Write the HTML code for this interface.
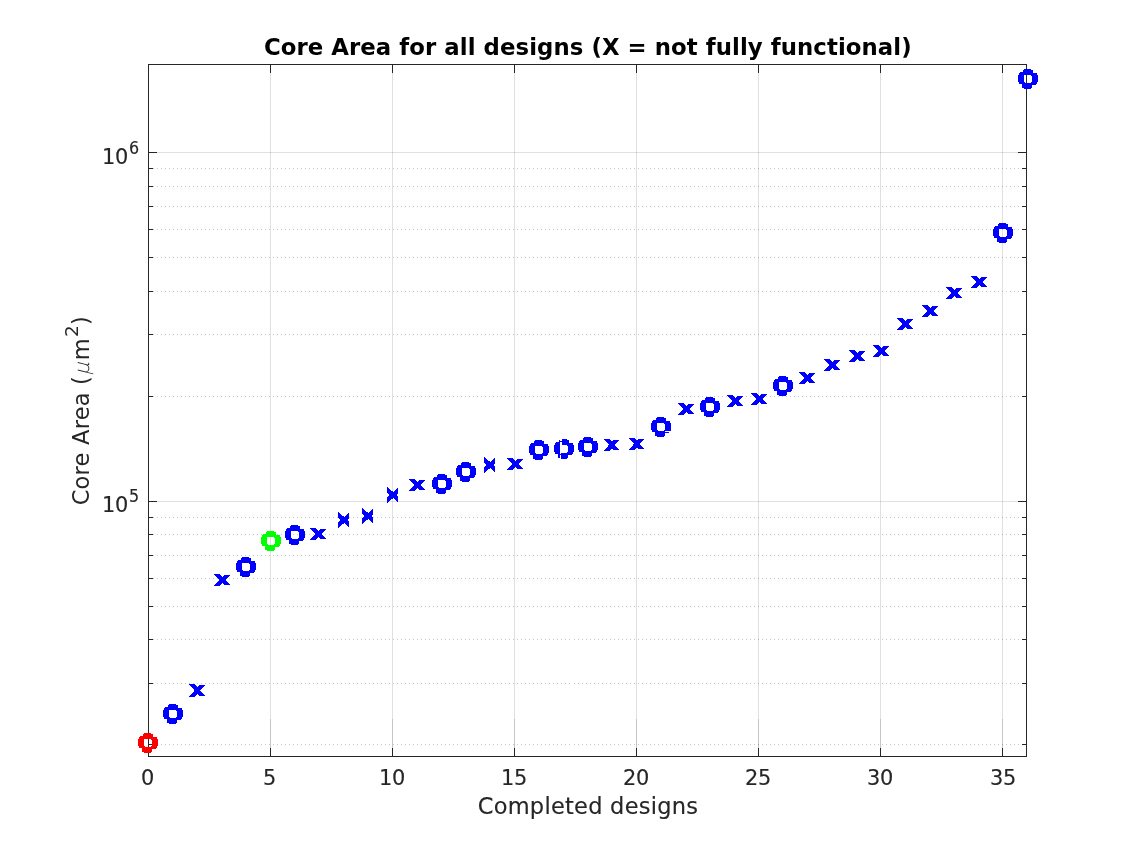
<!DOCTYPE html>
<html lang="en"><head><meta charset="utf-8"><title>Core Area for all designs</title>
<style>
html,body{margin:0;padding:0;background:#fff;}
body{width:1135px;height:851px;overflow:hidden;}
svg{display:block;}
text{font-family:"DejaVu Sans","Liberation Sans",sans-serif;fill:#262626;stroke:#262626;stroke-width:0.15px;}
.t{font-size:22px;letter-spacing:-0.31px;}
.sup{font-size:16.8px;letter-spacing:0;}
.sup2{font-size:18.5px;}
.mu{font-family:"DejaVu Sans Light","DejaVu Sans",sans-serif;font-style:italic;font-size:20.5px;stroke:none;}
.l{font-size:22.5px;}
.ttl{font-size:22.8px;font-weight:bold;fill:#000;stroke:none;}
.ax{stroke:#262626;stroke-width:1;fill:none;shape-rendering:crispEdges;}
.g{stroke:#262626;stroke-opacity:0.145;stroke-width:1;fill:none;shape-rendering:crispEdges;}
.mg{stroke:#262626;stroke-opacity:0.26;stroke-width:1;fill:none;stroke-dasharray:1 3.0048;shape-rendering:crispEdges;}
.m{shape-rendering:crispEdges;}
</style></head><body>
<svg width="1135" height="851" viewBox="0 0 1135 851">
<rect x="0" y="0" width="1135" height="851" fill="#ffffff"/>
<defs>
<path id="ring" fill-rule="evenodd" d="M-4,-10 L3,-10 L3,-9 L5,-9 L5,-6 L9,-6 L9,-4 L10,-4 L10,3 L9,3 L9,5 L8,5 L8,6 L4,6 L4,9 L3,9 L3,10 L-4,10 L-4,9 L-6,9 L-6,5 L-9,5 L-9,3 L-10,3 L-10,-4 L-9,-4 L-9,-6 L-8,-6 L-8,-7 L-5,-7 L-5,-9 L-4,-9Z M-4,-4 L3,-4 L3,-3 L4,-3 L4,3 L3,3 L3,4 L-3,4 L-3,3 L-4,3Z"/>
<path id="xw" d="M0,0h6v1h-6zM1,1h6v1h-6zM2,2h6v1h-6zM3,3h6v1h-6zM4,4h6v1h-6zM5,5h6v1h-6zM5,6h6v1h-6zM6,7h6v1h-6zM7,8h6v1h-6zM8,9h6v1h-6zM9,10h6v1h-6zM10,11h6v1h-6zM10,1h6v1h-6zM9,2h6v1h-6zM8,3h6v1h-6zM7,4h6v1h-6zM6,5h6v1h-6zM5,6h6v1h-6zM5,7h6v1h-6zM4,8h6v1h-6zM3,9h6v1h-6zM2,10h6v1h-6zM1,11h6v1h-6zM0,12h6v1h-6z"/>
<path id="xb" d="M0,0h6v1h-6zM1,1h6v1h-6zM2,2h6v1h-6zM3,3h6v1h-6zM4,4h6v1h-6zM5,5h6v1h-6zM6,6h6v1h-6zM7,7h6v1h-6zM8,8h6v1h-6zM9,9h6v1h-6zM10,10h6v1h-6zM10,1h6v1h-6zM9,2h6v1h-6zM8,3h6v1h-6zM7,4h6v1h-6zM6,5h6v1h-6zM5,6h6v1h-6zM4,7h6v1h-6zM3,8h6v1h-6zM2,9h6v1h-6zM1,10h6v1h-6zM0,11h6v1h-6z"/>
<path id="xc" d="M0,0h6v1h-6zM1,1h6v1h-6zM2,2h6v1h-6zM3,3h6v1h-6zM4,4h6v1h-6zM5,5h6v1h-6zM5,6h6v1h-6zM6,7h6v1h-6zM7,8h6v1h-6zM8,9h6v1h-6zM9,10h6v1h-6zM9,1h6v1h-6zM8,2h6v1h-6zM7,3h6v1h-6zM6,4h6v1h-6zM5,5h6v1h-6zM4,6h6v1h-6zM4,7h6v1h-6zM3,8h6v1h-6zM2,9h6v1h-6zM1,10h6v1h-6zM0,11h6v1h-6z"/>
<path id="xt" d="M0,0v6h1v-6zM1,1v6h1v-6zM2,2v6h1v-6zM3,3v6h1v-6zM4,4v6h1v-6zM5,4v6h1v-6zM6,5v6h1v-6zM7,6v6h1v-6zM8,7v6h1v-6zM9,8v6h1v-6zM10,9v6h1v-6zM0,10v6h1v-6zM1,9v6h1v-6zM2,8v6h1v-6zM3,7v6h1v-6zM4,6v6h1v-6zM5,6v6h1v-6zM6,5v6h1v-6zM7,4v6h1v-6zM8,3v6h1v-6zM9,2v6h1v-6zM10,1v6h1v-6z"/>
</defs>
<g class="g">
<line x1="270.5" y1="64.5" x2="270.5" y2="756.5"/>
<line x1="392.5" y1="64.5" x2="392.5" y2="756.5"/>
<line x1="514.5" y1="64.5" x2="514.5" y2="756.5"/>
<line x1="636.5" y1="64.5" x2="636.5" y2="756.5"/>
<line x1="758.5" y1="64.5" x2="758.5" y2="756.5"/>
<line x1="880.5" y1="64.5" x2="880.5" y2="756.5"/>
<line x1="1002.5" y1="64.5" x2="1002.5" y2="756.5"/>
<line x1="148.5" y1="501.5" x2="1026.5" y2="501.5"/>
<line x1="148.5" y1="152.5" x2="1026.5" y2="152.5"/>
<line x1="270.5" y1="719" x2="270.5" y2="756.5"/>
<line x1="392.5" y1="719" x2="392.5" y2="756.5"/>
<line x1="514.5" y1="719" x2="514.5" y2="756.5"/>
<line x1="636.5" y1="719" x2="636.5" y2="756.5"/>
<line x1="758.5" y1="719" x2="758.5" y2="756.5"/>
<line x1="880.5" y1="719" x2="880.5" y2="756.5"/>
<line x1="1002.5" y1="719" x2="1002.5" y2="756.5"/>
</g>
<g class="mg">
<line x1="153.0" y1="744.5" x2="1019.5" y2="744.5"/>
<line x1="153.0" y1="683.5" x2="1019.5" y2="683.5"/>
<line x1="153.0" y1="639.5" x2="1019.5" y2="639.5"/>
<line x1="153.0" y1="606.5" x2="1019.5" y2="606.5"/>
<line x1="153.0" y1="578.5" x2="1019.5" y2="578.5"/>
<line x1="153.0" y1="555.5" x2="1019.5" y2="555.5"/>
<line x1="153.0" y1="534.5" x2="1019.5" y2="534.5"/>
<line x1="153.0" y1="517.5" x2="1019.5" y2="517.5"/>
<line x1="153.0" y1="396.5" x2="1019.5" y2="396.5"/>
<line x1="153.0" y1="334.5" x2="1019.5" y2="334.5"/>
<line x1="153.0" y1="291.5" x2="1019.5" y2="291.5"/>
<line x1="153.0" y1="257.5" x2="1019.5" y2="257.5"/>
<line x1="153.0" y1="229.5" x2="1019.5" y2="229.5"/>
<line x1="153.0" y1="206.5" x2="1019.5" y2="206.5"/>
<line x1="153.0" y1="186.5" x2="1019.5" y2="186.5"/>
<line x1="153.0" y1="168.5" x2="1019.5" y2="168.5"/>
</g>
<g class="ax">
<rect x="148.5" y="64.5" width="878.0" height="692.0"/>
<line x1="270.5" y1="756.5" x2="270.5" y2="748.0"/>
<line x1="270.5" y1="64.5" x2="270.5" y2="73.0"/>
<line x1="392.5" y1="756.5" x2="392.5" y2="748.0"/>
<line x1="392.5" y1="64.5" x2="392.5" y2="73.0"/>
<line x1="514.5" y1="756.5" x2="514.5" y2="748.0"/>
<line x1="514.5" y1="64.5" x2="514.5" y2="73.0"/>
<line x1="636.5" y1="756.5" x2="636.5" y2="748.0"/>
<line x1="636.5" y1="64.5" x2="636.5" y2="73.0"/>
<line x1="758.5" y1="756.5" x2="758.5" y2="748.0"/>
<line x1="758.5" y1="64.5" x2="758.5" y2="73.0"/>
<line x1="880.5" y1="756.5" x2="880.5" y2="748.0"/>
<line x1="880.5" y1="64.5" x2="880.5" y2="73.0"/>
<line x1="1002.5" y1="756.5" x2="1002.5" y2="748.0"/>
<line x1="1002.5" y1="64.5" x2="1002.5" y2="73.0"/>
<line x1="148.5" y1="501.5" x2="157.0" y2="501.5"/>
<line x1="1026.5" y1="501.5" x2="1018.0" y2="501.5"/>
<line x1="148.5" y1="152.5" x2="157.0" y2="152.5"/>
<line x1="1026.5" y1="152.5" x2="1018.0" y2="152.5"/>
<line x1="148.5" y1="744.5" x2="153.0" y2="744.5"/>
<line x1="1026.5" y1="744.5" x2="1022.0" y2="744.5"/>
<line x1="148.5" y1="683.5" x2="153.0" y2="683.5"/>
<line x1="1026.5" y1="683.5" x2="1022.0" y2="683.5"/>
<line x1="148.5" y1="639.5" x2="153.0" y2="639.5"/>
<line x1="1026.5" y1="639.5" x2="1022.0" y2="639.5"/>
<line x1="148.5" y1="606.5" x2="153.0" y2="606.5"/>
<line x1="1026.5" y1="606.5" x2="1022.0" y2="606.5"/>
<line x1="148.5" y1="578.5" x2="153.0" y2="578.5"/>
<line x1="1026.5" y1="578.5" x2="1022.0" y2="578.5"/>
<line x1="148.5" y1="555.5" x2="153.0" y2="555.5"/>
<line x1="1026.5" y1="555.5" x2="1022.0" y2="555.5"/>
<line x1="148.5" y1="534.5" x2="153.0" y2="534.5"/>
<line x1="1026.5" y1="534.5" x2="1022.0" y2="534.5"/>
<line x1="148.5" y1="517.5" x2="153.0" y2="517.5"/>
<line x1="1026.5" y1="517.5" x2="1022.0" y2="517.5"/>
<line x1="148.5" y1="396.5" x2="153.0" y2="396.5"/>
<line x1="1026.5" y1="396.5" x2="1022.0" y2="396.5"/>
<line x1="148.5" y1="334.5" x2="153.0" y2="334.5"/>
<line x1="1026.5" y1="334.5" x2="1022.0" y2="334.5"/>
<line x1="148.5" y1="291.5" x2="153.0" y2="291.5"/>
<line x1="1026.5" y1="291.5" x2="1022.0" y2="291.5"/>
<line x1="148.5" y1="257.5" x2="153.0" y2="257.5"/>
<line x1="1026.5" y1="257.5" x2="1022.0" y2="257.5"/>
<line x1="148.5" y1="229.5" x2="153.0" y2="229.5"/>
<line x1="1026.5" y1="229.5" x2="1022.0" y2="229.5"/>
<line x1="148.5" y1="206.5" x2="153.0" y2="206.5"/>
<line x1="1026.5" y1="206.5" x2="1022.0" y2="206.5"/>
<line x1="148.5" y1="186.5" x2="153.0" y2="186.5"/>
<line x1="1026.5" y1="186.5" x2="1022.0" y2="186.5"/>
<line x1="148.5" y1="168.5" x2="153.0" y2="168.5"/>
<line x1="1026.5" y1="168.5" x2="1022.0" y2="168.5"/>
</g>
<g class="m">
<use href="#ring" x="148" y="743" fill="#ff0000"/>
<use href="#ring" x="173" y="714" fill="#0000ff"/>
<use href="#xw" x="189" y="684" fill="#0000ff"/>
<use href="#xb" x="214" y="574" fill="#0000ff"/>
<use href="#ring" x="246" y="567" fill="#0000ff"/>
<use href="#ring" x="271" y="541" fill="#00ff00"/>
<use href="#ring" x="295" y="535" fill="#0000ff"/>
<use href="#xb" x="310" y="528" fill="#0000ff"/>
<use href="#xt" x="338" y="512" fill="#0000ff"/>
<use href="#xt" x="362" y="508" fill="#0000ff"/>
<use href="#xt" x="387" y="487" fill="#0000ff"/>
<use href="#xb" x="409" y="479" fill="#0000ff"/>
<use href="#ring" x="442" y="484" fill="#0000ff"/>
<use href="#ring" x="466" y="472" fill="#0000ff"/>
<use href="#xt" x="484" y="457" fill="#0000ff"/>
<use href="#xb" x="507" y="458" fill="#0000ff"/>
<use href="#ring" x="539" y="450" fill="#0000ff"/>
<use href="#ring" x="564" y="449" fill="#0000ff"/>
<use href="#ring" x="588" y="447" fill="#0000ff"/>
<use href="#xc" x="604" y="439" fill="#0000ff"/>
<use href="#xc" x="629" y="438" fill="#0000ff"/>
<use href="#ring" x="661" y="427" fill="#0000ff"/>
<use href="#xb" x="678" y="403" fill="#0000ff"/>
<use href="#ring" x="710" y="407" fill="#0000ff"/>
<use href="#xb" x="727" y="395" fill="#0000ff"/>
<use href="#xb" x="751" y="393" fill="#0000ff"/>
<use href="#ring" x="783" y="386" fill="#0000ff"/>
<use href="#xb" x="799" y="372" fill="#0000ff"/>
<use href="#xb" x="824" y="359" fill="#0000ff"/>
<use href="#xb" x="849" y="350" fill="#0000ff"/>
<use href="#xb" x="873" y="345" fill="#0000ff"/>
<use href="#xb" x="897" y="318" fill="#0000ff"/>
<use href="#xb" x="922" y="305" fill="#0000ff"/>
<use href="#xb" x="946" y="287" fill="#0000ff"/>
<use href="#xb" x="971" y="276" fill="#0000ff"/>
<use href="#ring" x="1003" y="233" fill="#0000ff"/>
<use href="#ring" x="1028" y="79" fill="#0000ff"/>
</g>
<g class="m">
<path fill="#ffffff" d="M560,439h2v2h-2zM560,442h2v3h-2zM560,452h1v2h-1zM560,455h1v4h-1zM665,431h5v1h-5z"/>
<path fill="#0000ff" d="M670,430h1v1h-1z"/>
</g>
<g class="t" text-anchor="middle">
<text transform="translate(147.50,785.10) scale(0.95,1)">0</text>
<text transform="translate(269.50,785.10) scale(0.95,1)">5</text>
<text transform="translate(392.00,785.10) scale(0.95,1)">10</text>
<text transform="translate(514.00,785.10) scale(0.95,1)">15</text>
<text transform="translate(636.00,785.10) scale(0.95,1)">20</text>
<text transform="translate(758.00,785.10) scale(0.95,1)">25</text>
<text transform="translate(880.00,785.10) scale(0.95,1)">30</text>
<text transform="translate(1003.00,785.10) scale(0.95,1)">35</text>
</g>
<g class="t">
<text transform="translate(102.00,511.80) scale(0.95,1)">10<tspan dx="1.2" dy="-9.8" class="sup">5</tspan></text>
<text transform="translate(102.00,163.80) scale(0.95,1)">10<tspan dx="1.2" dy="-9.8" class="sup">6</tspan></text>
</g>
<text class="l" x="477.70" y="813.80" textLength="220.30" lengthAdjust="spacing">Completed designs</text>
<text class="l" style="stroke:none" transform="translate(88.80,505.30) rotate(-90)"><tspan textLength="129.20" lengthAdjust="spacing">Core Area (</tspan><tspan class="mu" x="129.70" y="0.60">μ</tspan><tspan x="145.10" y="-0.00">m</tspan><tspan class="sup2" x="168.30" y="-11.00">2</tspan><tspan x="180.30" y="-0.00">)</tspan></text>
<text class="ttl" transform="translate(263.90,55.30) scale(1,1.04)" textLength="647.70" lengthAdjust="spacing">Core Area for all designs (X = not fully functional)</text>
</svg>
</body></html>
